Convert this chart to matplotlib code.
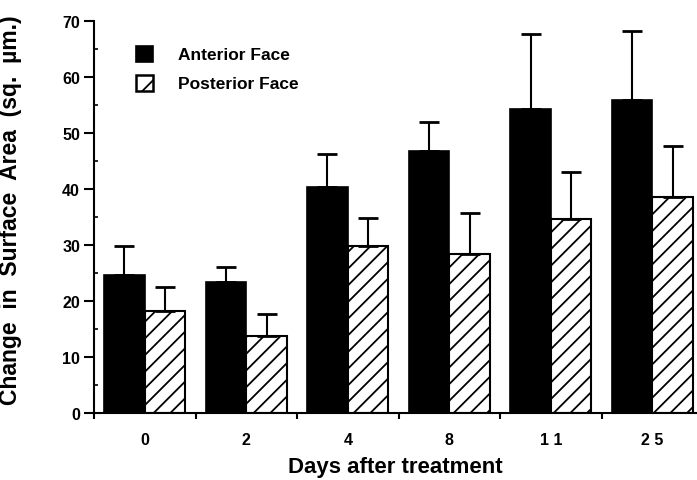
import numpy as np
import matplotlib.pyplot as plt
from matplotlib.ticker import MultipleLocator
from matplotlib.patches import Rectangle

plt.rcParams['font.family'] = ['Liberation Sans', 'DejaVu Sans']
plt.rcParams['hatch.linewidth'] = 1.3

days = ['0', '2', '4', '8', '1 1', '2 5']
anterior = [24.7, 23.4, 40.4, 46.8, 54.3, 55.9]
anterior_err = [5.1, 2.6, 5.8, 5.2, 13.4, 12.3]
posterior = [18.2, 13.8, 29.9, 28.4, 34.6, 38.5]
posterior_err = [4.3, 3.8, 5.0, 7.4, 8.4, 9.1]

fig = plt.figure(figsize=(6.97, 4.81), dpi=100)
ax = fig.add_axes([94 / 697, 67 / 481, 1 - 94 / 697, 392 / 481])

x = np.arange(len(days)) + 0.5
w = 0.4

ax.bar(x - w / 2, anterior, w, color='black', edgecolor='black',
       linewidth=1.2)
ax.errorbar(x - w / 2, anterior, yerr=[np.zeros(len(days)), anterior_err],
            fmt='none', ecolor='black', elinewidth=1.5, capsize=7, capthick=2)
ax.bar(x + w / 2, posterior, w, color='white', edgecolor='black',
       linewidth=1.5, hatch='//')
ax.errorbar(x + w / 2, posterior, yerr=[np.zeros(len(days)), posterior_err],
            fmt='none', ecolor='black', elinewidth=1.5, capsize=7, capthick=2)

ax.set_xlim(0, 5.94)
ax.set_ylim(0, 70)

ax.spines['top'].set_visible(False)
ax.spines['right'].set_visible(False)
ax.spines['left'].set_linewidth(1.5)
ax.spines['bottom'].set_linewidth(1.5)

ax.yaxis.set_major_locator(MultipleLocator(10))
ax.yaxis.set_minor_locator(MultipleLocator(5))
ax.tick_params(axis='y', which='major', direction='out', length=7, width=1.5,
               labelsize=11.5, pad=3)
ax.tick_params(axis='y', which='minor', direction='in', length=3, width=1.2)
for lab in ax.get_yticklabels():
    lab.set_fontweight('bold')

ax.set_xticks(np.arange(0, 6))
ax.set_xticklabels([])
ax.set_xticks(x, minor=True)
ax.set_xticklabels(days, minor=True, fontweight='bold', fontsize=11.5)
ax.tick_params(axis='x', which='major', direction='out', length=4, width=1.5)
ax.tick_params(axis='x', which='minor', length=0, pad=14)

ax.set_xlabel('Days after treatment', fontsize=16, fontweight='bold',
              labelpad=6)
ax.set_ylabel('Change  in  Surface  Area  (sq.  \u00b5m.)', fontsize=16.5,
              fontweight='bold')
ax.yaxis.set_label_coords(-0.12, 0.52)

# legend drawn by hand so the hatched key has a single diagonal
ka = Rectangle((136, 418), 17, 16, transform=None, facecolor='black',
               edgecolor='black', linewidth=1.2)
kp = Rectangle((136, 389), 17, 16, transform=None, facecolor='white',
               edgecolor='black', linewidth=1.8, hatch='/')
fig.add_artist(ka)
fig.add_artist(kp)
fig.text(178 / 697, 1 - 55 / 481, 'Anterior Face', fontsize=12.5,
         fontweight='bold', va='center')
fig.text(178 / 697, 1 - 85 / 481, 'Posterior Face', fontsize=12.5,
         fontweight='bold', va='center')

fig.savefig('out.png', dpi=100)
